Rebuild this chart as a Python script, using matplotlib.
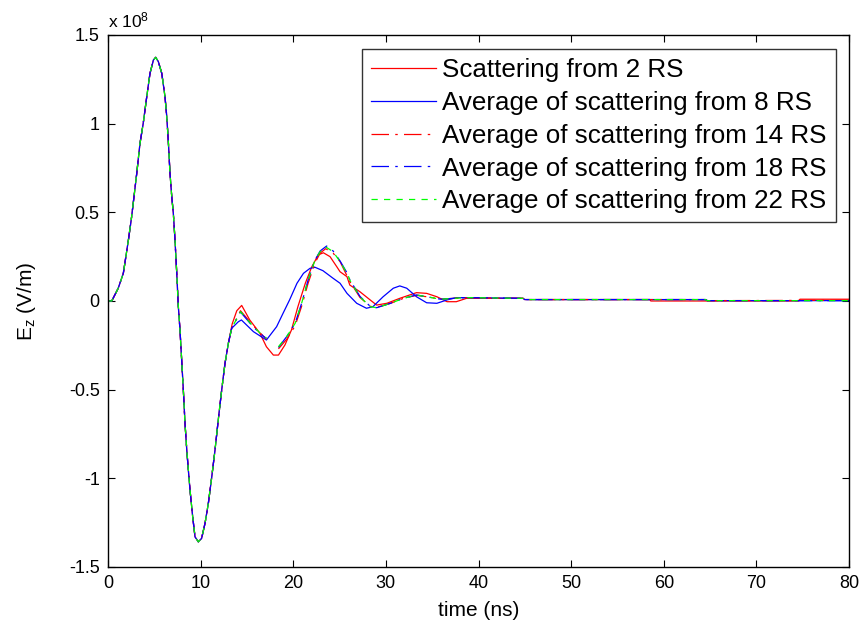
import numpy as np
import matplotlib
matplotlib.use("Agg")
import matplotlib.pyplot as plt

plt.rcParams['font.family'] = ['Liberation Sans', 'DejaVu Sans']
plt.rcParams['axes.unicode_minus'] = False
plt.rcParams['mathtext.fontset'] = 'custom'
plt.rcParams['mathtext.rm'] = 'Liberation Sans'
plt.rcParams['mathtext.it'] = 'Liberation Sans'

# ---- common incident pulse (all series coincide), units of 1e8 V/m ----
t_pulse = [0.0, 0.4, 1.1, 1.65, 2.2, 2.55, 3.1, 3.45, 3.8, 4.18, 4.53, 4.9, 5.15, 5.43,
           5.8, 6.15, 6.34, 6.5, 6.69, 6.88, 7.05, 7.23, 7.42, 7.59, 7.77, 7.95, 8.13,
           8.31, 8.5, 8.67, 8.85, 9.14, 9.39, 9.75, 10.1, 10.47, 10.83, 11.2, 11.55,
           11.9, 12.27, 12.63, 12.99]
v_pulse = [0.0, 0.0, 0.072, 0.156, 0.344, 0.476, 0.72, 0.889, 1.002, 1.152, 1.284, 1.359,
           1.374, 1.35, 1.284, 1.152, 1.04, 0.908, 0.72, 0.588, 0.495, 0.344, 0.156, -0.032,
           -0.164, -0.333, -0.502, -0.69, -0.84, -0.953, -1.066, -1.217, -1.33, -1.358,
           -1.339, -1.254, -1.141, -0.991, -0.84, -0.671, -0.502, -0.351, -0.239]

# ---- scattered part, per series ----
t_rs2 = [13.4, 13.9, 14.43, 15.3, 16.4, 17.1, 17.85, 18.4, 19.1, 19.8, 20.5, 21.3, 22.0,
         22.7, 23.25, 23.97, 24.7, 25.05, 25.8, 26.1, 27.2, 28.3, 29.0, 30.1, 31.5, 33.3,
         34.4, 35.5, 36.6, 37.6, 38.7, 44.8, 45.0, 58.5, 58.6, 64.6, 74.6, 74.7, 80.0]
v_rs2 = [-0.13, -0.055, -0.025, -0.107, -0.182, -0.258, -0.305, -0.305, -0.248, -0.164,
         -0.032, 0.1, 0.193, 0.26, 0.272, 0.25, 0.193, 0.165, 0.137, 0.09, 0.052, 0.006,
         -0.023, -0.013, 0.015, 0.047, 0.043, 0.024, -0.004, -0.004, 0.015, 0.015, 0.008,
         0.008, 0.0, 0.0, 0.0, 0.01, 0.01]

t_rs8 = [13.35, 14.07, 14.4, 15.7, 16.8, 17.1, 18.2, 18.9, 19.6, 20.4, 21.1, 21.8, 22.35,
         23.2, 24.3, 25.05, 25.8, 26.85, 27.9, 28.6, 29.7, 30.8, 31.5, 32.25, 33.3, 34.4,
         35.5, 36.6, 37.6, 39.1, 44.8, 45.0, 64.5, 64.7, 80.0]
v_rs8 = [-0.154, -0.117, -0.107, -0.173, -0.21, -0.22, -0.145, -0.069, 0.006, 0.1, 0.156,
         0.184, 0.19, 0.171, 0.128, 0.1, 0.043, -0.013, -0.041, -0.032, 0.024, 0.072, 0.085,
         0.072, 0.024, -0.01, -0.013, 0.006, 0.019, 0.019, 0.015, 0.008, 0.008, 0.002, 0.002]

t_rs14 = [13.35, 14.3, 15.7, 16.8, 17.1, np.nan, 18.4, 19.3, 20.2, 20.9, 21.6, 22.35, 22.9,
          23.5, 24.3, 25.05, 26.1, 27.2, 28.3, 29.0, 30.5, 31.9, 33.3, 34.4, 35.9, 37.3,
          38.7, 44.8, 45.0, 64.5, 64.7, 80.0]
v_rs14 = [-0.154, -0.055, -0.14, -0.2, -0.215, np.nan, -0.27, -0.215, -0.14, -0.03, 0.1,
          0.215, 0.27, 0.295, 0.27, 0.222, 0.11, 0.02, -0.03, -0.036, -0.013, 0.015, 0.032,
          0.024, 0.01, 0.015, 0.017, 0.015, 0.008, 0.008, 0.002, 0.004]

t_rs18 = [13.35, 14.3, 15.7, 16.8, 17.1, np.nan, 18.4, 19.3, 20.2, 20.9, 21.6, 22.35, 22.9,
          23.6, 24.3, 25.05, 25.9, 26.1, 27.2, 28.3, 29.0, 30.5, 31.9, 33.3, 34.4, 35.9,
          37.3, 38.7, 44.8, 45.0, 64.5, 64.7, 80.0]
v_rs18 = [-0.154, -0.062, -0.148, -0.2, -0.21, np.nan, -0.262, -0.2, -0.126, -0.013, 0.118,
          0.231, 0.282, 0.31, 0.282, 0.226, 0.15, 0.12, 0.026, -0.03, -0.038, -0.013, 0.015,
          0.034, 0.024, 0.01, 0.015, 0.019, 0.015, 0.008, 0.008, 0.002, 0.002]

t_rs22 = [13.35, 14.3, 15.7, 16.8, 17.1, np.nan, 18.4, 19.3, 20.2, 20.9, 21.6, 22.35, 22.9,
          23.5, 24.3, 25.05, 25.9, 26.1, 27.2, 28.3, 29.0, 30.5, 31.9, 33.3, 34.4, 35.9,
          37.3, 38.7, 44.8, 45.0, 64.5, 64.7, 80.0]
v_rs22 = [-0.154, -0.06, -0.145, -0.2, -0.21, np.nan, -0.258, -0.2, -0.126, -0.013, 0.118,
          0.231, 0.278, 0.305, 0.278, 0.222, 0.147, 0.118, 0.024, -0.032, -0.038, -0.013,
          0.015, 0.034, 0.024, 0.01, 0.015, 0.019, 0.015, 0.008, 0.008, 0.002, 0.002]

labels = ['Scattering from 2 RS', 'Average of scattering from 8 RS',
          'Average of scattering from 14 RS', 'Average of scattering from 18 RS',
          'Average of scattering from 22 RS']

xticks = [0, 10, 20, 30, 40, 50, 60, 70, 80]
yticks = [-1.5, -1, -0.5, 0, 0.5, 1, 1.5]
yticklabels = ['-1.5', '-1', '-0.5', '0', '0.5', '1', '1.5']

fig = plt.figure(figsize=(8.65, 6.34), dpi=100)
ax = fig.add_axes([0.1249, 0.1057, 0.8566, 0.8391])

series = [(t_rs2, v_rs2), (t_rs8, v_rs8), (t_rs14, v_rs14), (t_rs18, v_rs18), (t_rs22, v_rs22)]
styles = [dict(color='#ff0000', ls='-'),
          dict(color='#0000ff', ls='-'),
          dict(color='#ff0000', ls=(0, (14, 5, 2, 5))),
          dict(color='#0000ff', ls=(0, (14, 5, 2, 5))),
          dict(color='#00ff00', ls=(0, (5, 5)))]

for (ts, vs), st, lab in zip(series, styles, labels):
    t = np.concatenate([t_pulse, ts])
    v = np.concatenate([v_pulse, vs])
    ax.plot(t, v, lw=0.9, label=lab, **st)

ax.set_xlim(0, 80)
ax.set_ylim(-1.5, 1.5)
ax.set_xticks(xticks)
ax.set_yticks(yticks)
ax.set_yticklabels(yticklabels)
ax.tick_params(direction='in', top=True, right=True, labelsize=13, length=5, width=0.8,
               pad=6)
for s in ax.spines.values():
    s.set_linewidth(1.0)

ax.set_xlabel('time (ns)', fontsize=15, labelpad=6)
ax.set_ylabel(r'E$_{\mathrm{z}}$ (V/m)', fontsize=15, labelpad=22)
ax.text(0.0, 1.008, r'x 10$^{8}$', transform=ax.transAxes, fontsize=12.5,
        ha='left', va='bottom')

leg = ax.legend(loc='upper right', bbox_to_anchor=(0.9825, 0.9737), borderaxespad=0,
                fontsize=18.7, frameon=True, fancybox=False, edgecolor='black',
                handlelength=2.5, handletextpad=0.25, borderpad=0.35, labelspacing=0.34)
leg.get_frame().set_linewidth(1.0)

fig.savefig('out.png', dpi=100)
